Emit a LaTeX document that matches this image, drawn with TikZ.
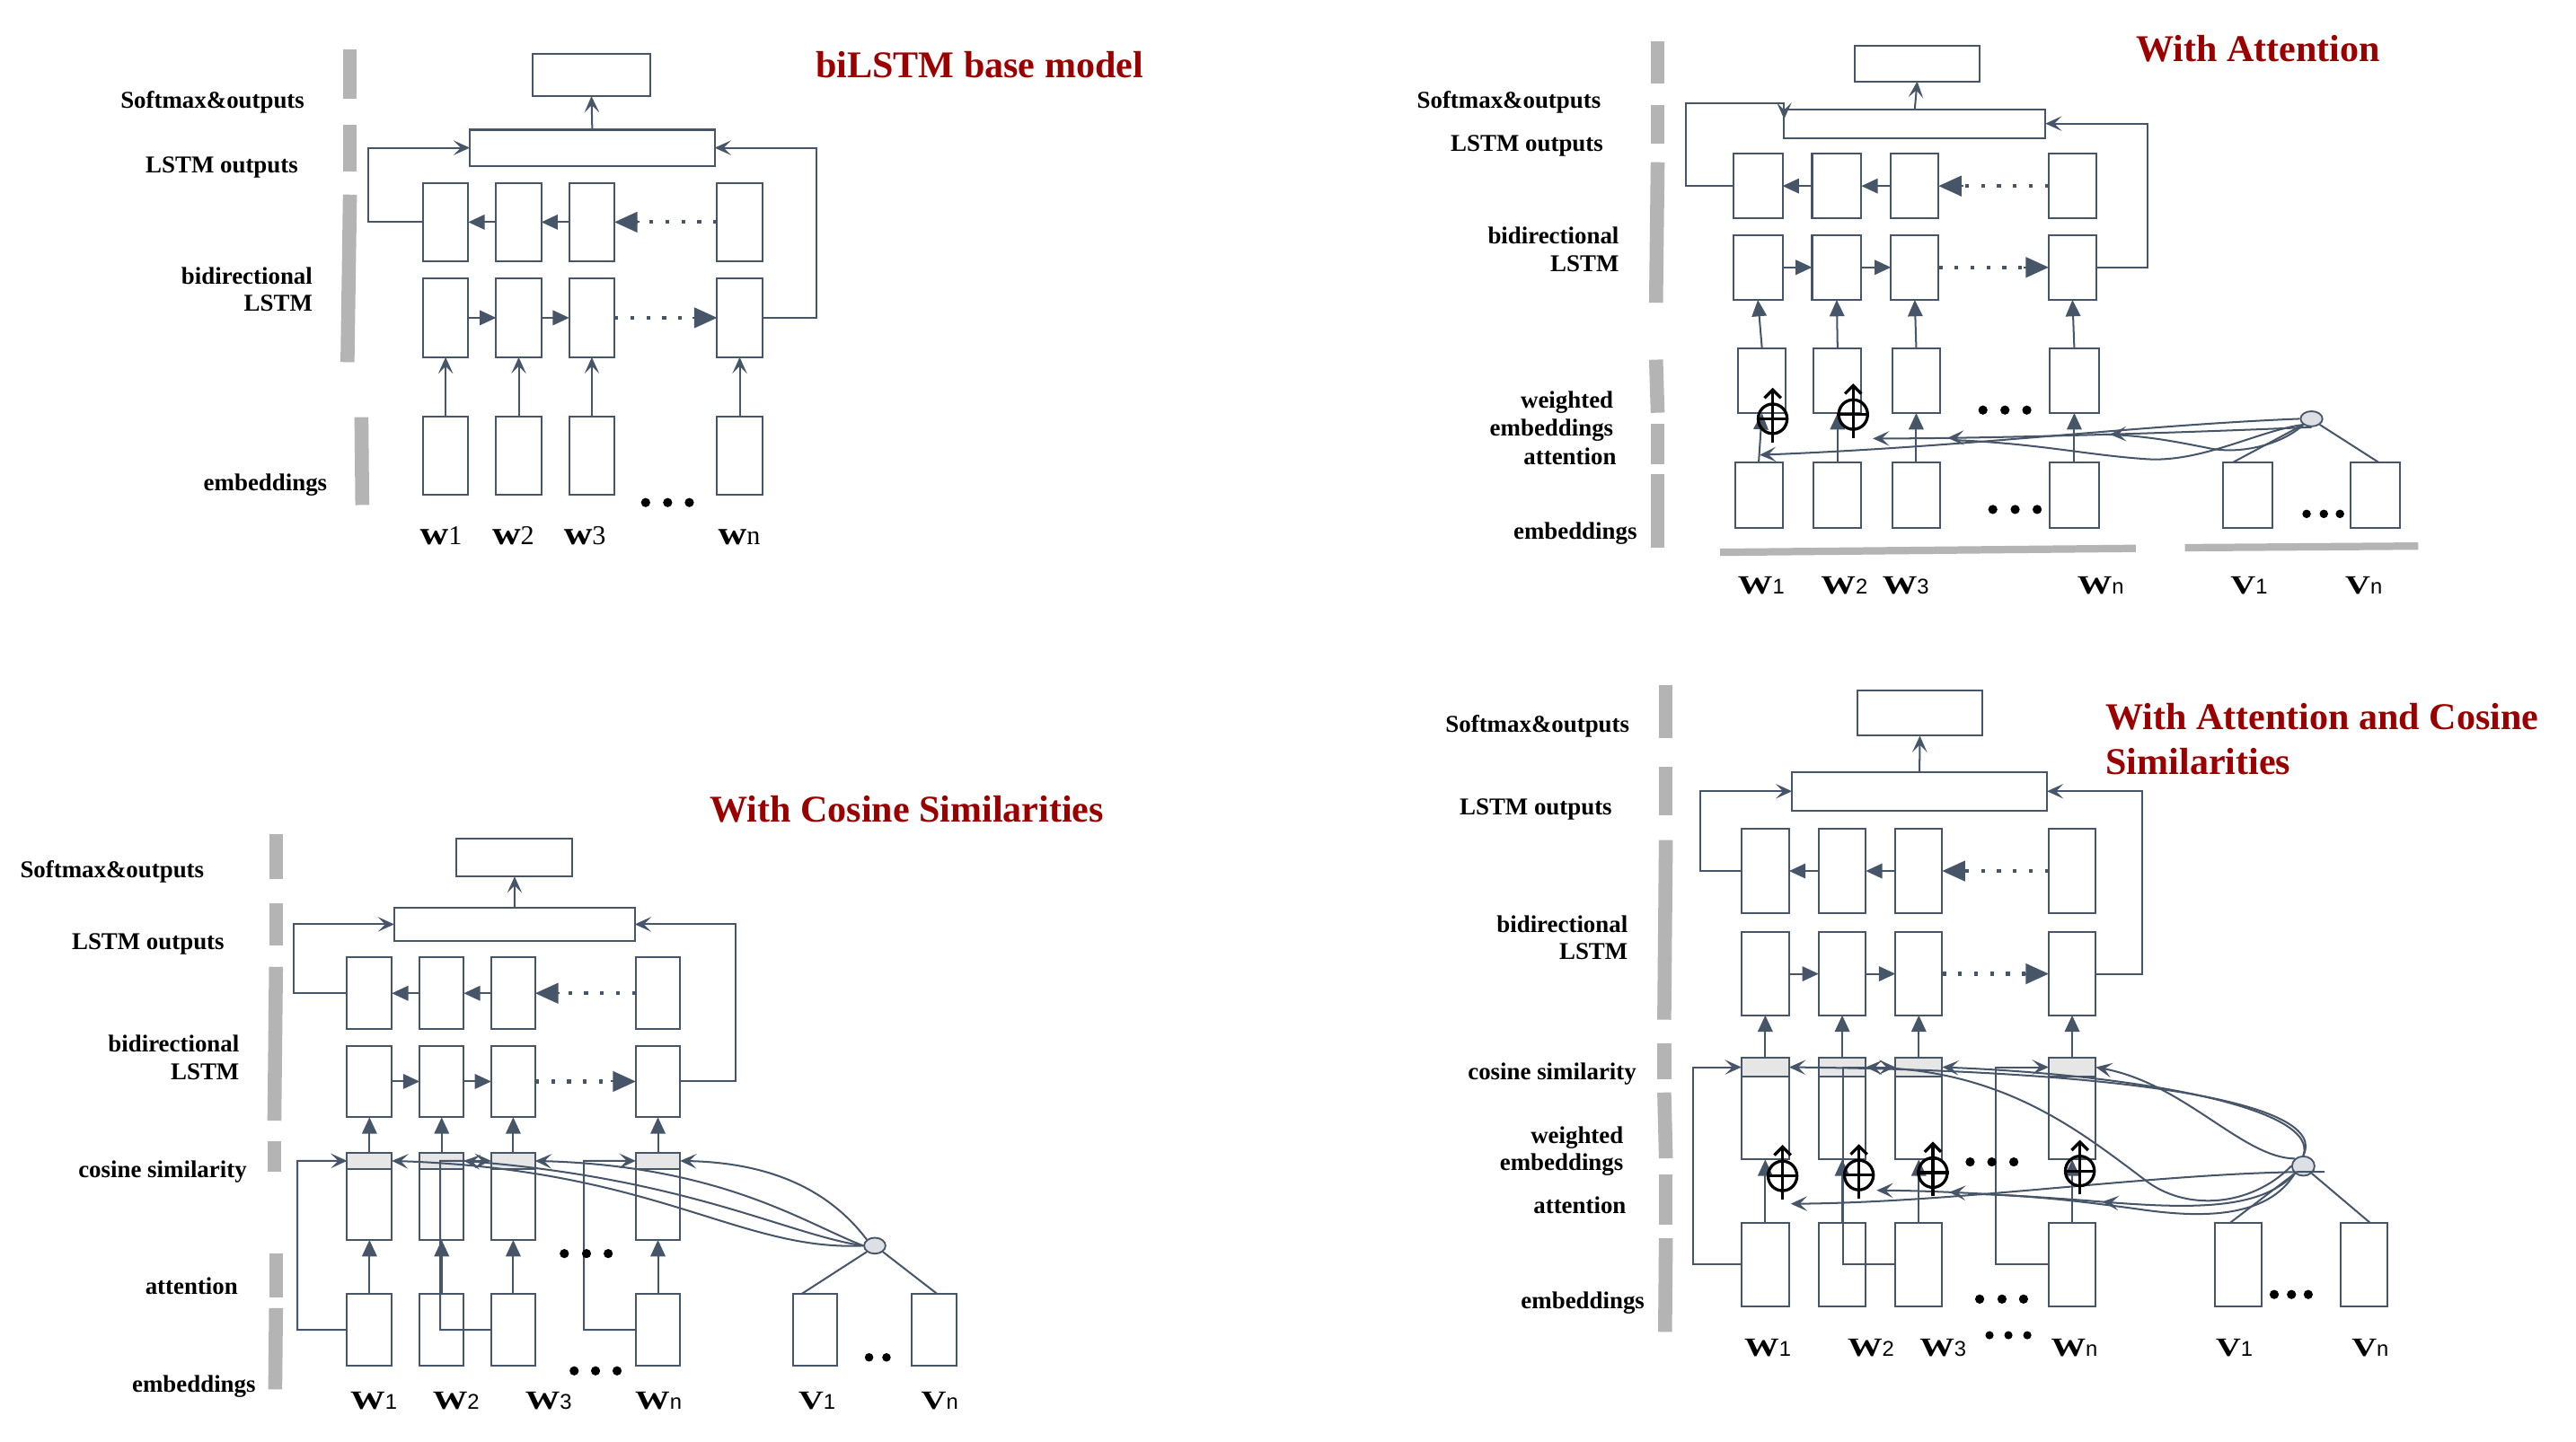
\documentclass[tikz,border=0pt]{standalone}
\usepackage{fontspec}
\setmainfont{Liberation Serif}
\newfontfamily\sansf{Liberation Sans}
\usepackage{graphicx}
\usetikzlibrary{arrows.meta,shapes.geometric,decorations.markings}
\definecolor{lc}{HTML}{475569}
\definecolor{barc}{HTML}{B4B4B4}
\definecolor{gfill}{HTML}{E6E6E6}
\definecolor{tred}{HTML}{9B0000}
\definecolor{attfill}{HTML}{DCDFE4}
\newcommand{\labfont}{\bfseries\fontsize{14.7}{17}\selectfont}
\newcommand{\ttlfont}{\bfseries\fontsize{23}{27}\selectfont}
\newcommand{\Wl}[2]{{\fontsize{16}{19}\selectfont\bfseries\scalebox{1.32}[1]{#1}}{\sansf\fontsize{13}{15}\selectfont #2}}
\newcommand{\wl}[2]{{\fontsize{20}{23}\selectfont\bfseries\scalebox{1.2}[1]{#1}}{\fontsize{16.5}{19}\selectfont #2}}
\newcommand{\bx}[5]{\pgfmathsetmacro\bxw{#4-#2}\pgfmathsetmacro\bxh{#5-#3}\pgfmathsetmacro\bxx{(#2+#4)/2}\pgfmathsetmacro\bxy{(#3+#5)/2}\node[box,minimum width=\bxw pt,minimum height=\bxh pt] (#1) at (\bxx,\bxy) {};}
\newcommand{\gx}[5]{\pgfmathsetmacro\bxw{#4-#2}\pgfmathsetmacro\bxh{#5-#3}\pgfmathsetmacro\bxx{(#2+#4)/2}\pgfmathsetmacro\bxy{(#3+#5)/2}\node[gbox,minimum width=\bxw pt,minimum height=\bxh pt] (#1) at (\bxx,\bxy) {};}
\newcommand{\opl}[3]{\node[oplus] (#1) at (#2,#3) {};
 \draw[opll] (#1.west) -- (#1.east);
 \draw[opll,-{Straight Barb[length=5pt,width=10pt]}] ([yshift=-4.5pt]#1.south) -- ([yshift=9pt]#1.north);}
\newcommand{\rowarrows}[1]{%
 \draw[tri] (#1b2.west) -- (#1b1.east);
 \draw[tri] (#1b3.west) -- (#1b2.east);
 \draw[dotl] (#1b4.west) -- ([xshift=13pt]#1b3.east);
 \draw[bigtri] ([xshift=15pt]#1b3.east) -- (#1b3.east);
 \draw[tri] (#1f1.east) -- (#1f2.west);
 \draw[tri] (#1f2.east) -- (#1f3.west);
 \draw[dotl] (#1f3.east) -- ([xshift=-13pt]#1f4.west);
 \draw[bigtri] ([xshift=-15pt]#1f4.west) -- (#1f4.west);}
\newcommand{\dotrow}[3]{\foreach \xx in {#1}{\fill[black] (\xx,#2) circle (#3pt);}}
\tikzset{
 box/.style={draw=lc,line width=1.1pt,fill=white,inner sep=0pt,outer sep=0pt},
 gbox/.style={box,fill=gfill},
 con/.style={draw=lc,line width=1.1pt},
 ast/.tip={Stealth[length=10pt,width=9pt,inset=4.5pt]},
 smtri/.tip={Triangle[length=10pt,width=9pt]},
 bgtri/.tip={Triangle[length=14pt,width=12.5pt]},
 stl/.style={con,-{ast}},
 tri/.style={con,-{smtri}},
 bigtri/.style={con,-{bgtri}},
 dotl/.style={draw=lc,line width=2.3pt,dash pattern=on 2.3pt off 7.4pt},
 gbar/.style={draw=barc,line width=8.5pt},
 hbar/.style={draw=barc,line width=4.5pt},
 lab/.style={font=\labfont,anchor=east,inner sep=0pt},
 wlab/.style={inner sep=0pt},
 wlab1/.style={inner sep=0pt,anchor=base},
 ttl/.style={font=\ttlfont,text=tred,inner sep=0pt},
 att/.style={ellipse,draw=lc,fill=attfill,line width=1pt,inner sep=0pt},
 oplus/.style={ellipse,draw=black,line width=1.8pt,minimum width=17.6pt,minimum height=18pt,inner sep=0pt},
 opll/.style={draw=black,line width=1.8pt},
 twomarks/.style 2 args={postaction={decorate,decoration={markings,mark=at position #1 with {\arrow{ast}},mark=at position #2 with {\arrow{ast}}}}}
}
\begin{document}
\begin{tikzpicture}[x=1pt,y=-1pt]
\useasboundingbox (0,0) rectangle (1568,878);
\fill[white] (0,0) rectangle (1568,878);

%================ Panel 1 =================
\foreach \n/\a/\b in {1/257.5/285,2/302/329.5,3/346.5/374,4/436.5/464}{
 \bx{p1b\n}{\a}{111.5}{\b}{159}
 \bx{p1f\n}{\a}{169.5}{\b}{217.5}
 \bx{p1e\n}{\a}{253.5}{\b}{301}}
\bx{p1so}{324}{33}{396}{58.5}
\bx{p1lo}{286}{79}{435}{101}
\draw[stl] (p1lo.north) -- (p1so.south);
\rowarrows{p1}
\coordinate (p1fl) at (224,90);
\coordinate (p1fr) at (497,90);
\draw[stl] (p1b1.west) -| (p1fl) -- (p1lo.west);
\draw[stl] (p1f4.east) -| (p1fr) -- (p1lo.east);
\foreach \i in {1,...,4}{\draw[stl] (p1e\i.north) -- (p1f\i.south);}
\dotrow{393,406.4,419.6}{306}{2.8}
\node[wlab1] (p1w1) at (268.5,331.7) {\wl{w}{1}};
\node[wlab1] (p1w2) at (312.4,331.7) {\wl{w}{2}};
\node[wlab1] (p1w3) at (356,331.7) {\wl{w}{3}};
\node[wlab1] (p1w4) at (450,331.7) {\wl{w}{n}};
\draw[gbar] (213,30) -- (213,60);
\draw[gbar] (213,76) -- (213,104.5);
\draw[gbar] (213,118.5) -- (211.5,220.5);
\draw[gbar] (220,254) -- (220.5,307.5);
\node[lab] (p1t1) at (185.5,62.5) {Softmax\&outputs};
\node[lab] (p1t2) at (181.6,101.7) {LSTM outputs};
\node[lab] (p1t3) at (190.4,168) {bidirectional};
\node[lab] (p1t4) at (190.4,184.4) {LSTM};
\node[lab] (p1t5) at (199.3,295.4) {embeddings};
\node[ttl] (p1tt) at (596.3,39.2) {biLSTM base model};

%================ Panel 2 =================
\foreach \n/\a/\b in {1/1055/1085,2/1103/1133,3/1151/1180,4/1247/1276}{
 \bx{p2b\n}{\a}{93.5}{\b}{133}
 \bx{p2f\n}{\a}{143}{\b}{182.6}}
\foreach \n/\a/\b in {1/1058/1087,2/1104/1133,3/1151.8/1181,4/1247.7/1277.5}{
 \bx{p2w\n}{\a}{212}{\b}{251.5}}
\foreach \n/\a/\b in {1/1056/1085,2/1104/1133,3/1151.8/1181,4/1247.7/1277.5}{
 \bx{p2e\n}{\a}{281.6}{\b}{321.5}}
\bx{p2v1}{1353}{281.6}{1383}{321.5}
\bx{p2v2}{1431}{281.6}{1461}{321.5}
\bx{p2so}{1129}{28}{1205}{49.5}
\bx{p2lo}{1086}{66.5}{1245}{84}
\draw[stl] (p2lo.north) -- (p2so.south);
\rowarrows{p2}
\coordinate (p2fl) at (1026.3,63);
\coordinate (p2fr) at (1307,75.25);
\draw[stl] (p2b1.west) -| (p2fl) -| ([yshift=-6pt]p2lo.north west);
\draw[stl] (p2f4.east) -| (p2fr) -- (p2lo.east);
\foreach \i in {1,...,4}{\draw[tri] (p2w\i.north) -- (p2f\i.south); \draw[tri] (p2e\i.north) -- (p2w\i.south);}
\node[att,minimum width=13.3pt,minimum height=9.2pt] (p2a) at (1407,255) {};
\draw[stl,twomarks={0.46}{0.83}] (p2a.south) .. controls (1340,263) and (1220,267) .. (1140,267);
\draw[stl] (p2a.west) .. controls (1300,259) and (1200,272) .. (1071,277);
\draw[con] (p2a.south west) .. controls (1375,262) and (1340,282) .. (1306,279.5) .. controls (1270,277) and (1240,270) .. (1190,268);
\draw[con] (p2a.south west) .. controls (1390,270) and (1365,277) .. (1345,273) .. controls (1325,269) and (1305,265) .. (1280,264.5);
\draw[con] (p2a.south west) -- ([xshift=-9pt]p2v1.north);
\draw[con] (p2a.south east) -- ([xshift=2pt]p2v2.north);
\opl{p2o1}{1079}{255}
\opl{p2o2}{1128}{252.4}
\dotrow{1207,1220.4,1233.7}{249.7}{2.8}
\dotrow{1213,1226.6,1240}{310.2}{2.8}
\dotrow{1404,1414.5,1424.3}{312.9}{2.6}
\draw[gbar] (1009,25.3) -- (1009,50.7);
\draw[gbar] (1009,64.2) -- (1009,87.5);
\draw[gbar] (1009,98.8) -- (1008,184.3);
\draw[gbar] (1008,219) -- (1009,251.3);
\draw[gbar] (1009,258) -- (1009,282.7);
\draw[gbar] (1009,288.8) -- (1009,333.5);
\draw[hbar] (1047,336.3) -- (1300,333.9);
\draw[hbar] (1330,333.5) -- (1472,332.5);
\node[lab] (p2t1) at (974.6,62.5) {Softmax\&outputs};
\node[lab] (p2t2) at (976,88.7) {LSTM outputs};
\node[lab] (p2t3) at (985.6,143.4) {bidirectional};
\node[lab] (p2t4) at (985.6,160.6) {LSTM};
\node[lab] (p2t5) at (982.2,245) {weighted};
\node[lab] (p2t6) at (982.2,262) {embeddings};
\node[lab] (p2t7) at (984,277.8) {attention};
\node[lab] (p2t8) at (996.6,324.8) {embeddings};
\node[wlab] (p2l1) at (1072,356.7) {\Wl{W}{1}};
\node[wlab] (p2l2) at (1122.6,356.7) {\Wl{W}{2}};
\node[wlab] (p2l3) at (1160,356.7) {\Wl{W}{3}};
\node[wlab] (p2l4) at (1278.6,356.7) {\Wl{W}{n}};
\node[wlab] (p2l5) at (1369,356.7) {\Wl{V}{1}};
\node[wlab] (p2l6) at (1438.8,356.7) {\Wl{V}{n}};
\node[ttl] (p2tt) at (1374.6,29.4) {With Attention};

%================ Panel 3 =================
\foreach \n/\a/\b in {1/211.3/238.5,2/255.4/282.3,3/299/325.8,4/387/414}{
 \bx{p3b\n}{\a}{583}{\b}{626.6}
 \bx{p3f\n}{\a}{636.7}{\b}{680.3}
 \bx{p3c\n}{\a}{702}{\b}{755}
 \gx{p3g\n}{\a}{702}{\b}{711.7}
 \bx{p3e\n}{\a}{788}{\b}{831.6}}
\bx{p3v1}{482.6}{788}{509.6}{831.6}
\bx{p3v2}{555}{788}{582.3}{831.6}
\bx{p3so}{278}{510.4}{348.5}{533.7}
\bx{p3lo}{240}{552.8}{386.4}{572.8}
\draw[stl] (p3lo.north) -- (p3so.south);
\rowarrows{p3}
\coordinate (p3fl) at (178.6,562.8);
\coordinate (p3fr) at (448,562.8);
\draw[stl] (p3b1.west) -| (p3fl) -- (p3lo.west);
\draw[stl] (p3f4.east) -| (p3fr) -- (p3lo.east);
\foreach \i in {1,...,4}{\draw[tri] (p3g\i.north) -- (p3f\i.south); \draw[tri] (p3e\i.north) -- (p3c\i.south);}
\coordinate (p3s1) at (181,706.85);
\coordinate (p3s3) at (268,706.85);
\coordinate (p3s4) at (355.4,706.85);
\draw[stl] (p3e1.west) -| (p3s1) -- (p3g1.west);
\draw[stl] (p3e3.west) -| (p3s3) -- (p3g3.west);
\draw[stl] (p3e4.west) -| (p3s4) -- (p3g4.west);
\node[att,minimum width=13pt,minimum height=9.7pt] (p3a) at (532.5,758.5) {};
\draw[stl] (p3a.north west) .. controls (505,725) and (470,708) .. (p3g4.east);
\draw[stl] (p3a.west) .. controls (490,745) and (440,710) .. (p3g3.east);
\draw[stl] (p3a.west) .. controls (480,752) and (420,718) .. (p3g2.east);
\draw[stl] (p3a.west) .. controls (450,762) and (400,712) .. (p3g1.east);
\draw[con] (p3a.south west) -- ([xshift=-8.4pt]p3v1.north);
\draw[con] (p3a.south east) -- ([xshift=2pt]p3v2.north);
\dotrow{343.5,357,370.2}{763.3}{2.8}
\dotrow{349.5,362.5,375.6}{834.7}{2.8}
\dotrow{529,539.6}{826.5}{2.6}
\draw[gbar] (168,507.7) -- (168,535);
\draw[gbar] (168,550) -- (168,575.7);
\draw[gbar] (168,588.7) -- (167,682.4);
\draw[gbar] (167,695) -- (167,713.6);
\draw[gbar] (168,763.4) -- (168,790);
\draw[gbar] (168,796.5) -- (167.5,846);
\node[lab] (p3t1) at (124.4,531) {Softmax\&outputs};
\node[lab] (p3t2) at (136.7,575) {LSTM outputs};
\node[lab] (p3t3) at (145.8,635.5) {bidirectional};
\node[lab] (p3t4) at (145.8,652.6) {LSTM};
\node[lab] (p3t5) at (150.4,713.7) {cosine similarity};
\node[lab] (p3t6) at (145,783) {attention};
\node[lab] (p3t7) at (155.8,844) {embeddings};
\node[wlab] (p3l1) at (227.5,853) {\Wl{W}{1}};
\node[wlab] (p3l2) at (277.6,853) {\Wl{W}{2}};
\node[wlab] (p3l3) at (333.9,853) {\Wl{W}{3}};
\node[wlab] (p3l4) at (400.8,853) {\Wl{W}{n}};
\node[wlab] (p3l5) at (497.3,853) {\Wl{V}{1}};
\node[wlab] (p3l6) at (572,853) {\Wl{V}{n}};
\node[ttl] (p3tt) at (552,492.6) {With Cosine Similarities};

%================ Panel 4 =================
\foreach \n/\a/\b in {1/1060/1089,2/1107/1135.7,3/1153.7/1182.2,4/1247/1275.6}{
 \bx{p4b\n}{\a}{504.8}{\b}{555.9}
 \bx{p4f\n}{\a}{567.7}{\b}{618.2}
 \bx{p4c\n}{\a}{644}{\b}{706}
 \gx{p4g\n}{\a}{644}{\b}{655.6}
 \bx{p4e\n}{\a}{744.5}{\b}{795.2}}
\bx{p4v1}{1348.3}{744.5}{1376.7}{795.2}
\bx{p4v2}{1425}{744.5}{1453}{795.2}
\bx{p4so}{1130.5}{420.4}{1206.7}{448}
\bx{p4lo}{1090.8}{470}{1246}{493.6}
\draw[stl] (p4lo.north) -- (p4so.south);
\rowarrows{p4}
\coordinate (p4fl) at (1035,481.8);
\coordinate (p4fr) at (1304,481.8);
\draw[stl] (p4b1.west) -| (p4fl) -- (p4lo.west);
\draw[stl] (p4f4.east) -| (p4fr) -- (p4lo.east);
\foreach \i in {1,...,4}{\draw[tri] (p4g\i.north) -- (p4f\i.south); \draw[tri] (p4e\i.north) -- (p4c\i.south);}
\coordinate (p4s1) at (1030.5,649.8);
\coordinate (p4s3) at (1121.8,649.8);
\coordinate (p4s4) at (1215,649.8);
\draw[stl] (p4e1.west) -| (p4s1) -- (p4g1.west);
\draw[stl] (p4e3.west) -| (p4s3) -- (p4g3.west);
\draw[stl] (p4e4.west) -| (p4s4) -- (p4g4.west);
\node[att,minimum width=13.7pt,minimum height=11.8pt] (p4a) at (1402,710) {};
\coordinate (p4ar) at (1415,713.5);
\draw[stl] (p4a.north west) .. controls (1365,705) and (1330,660) .. (p4g4.east);
\draw[stl] (p4a.north) .. controls (1412,676) and (1310,655) .. (p4g3.east);
\draw[stl] (p4a.north) .. controls (1418,672) and (1300,652) .. (p4g1.east);
\draw[stl] (p4a.west) .. controls (1370,735) and (1330,738) .. (1305,718) .. controls (1265,688) and (1220,652) .. (p4g2.east);
\draw[stl] (p4ar) .. controls (1320,713) and (1200,732) .. (1090,733);
\draw[stl,twomarks={0.47}{0.83}] (p4a.south west) .. controls (1375,738) and (1330,736) .. (1270,731) .. controls (1230,728) and (1180,725) .. (1142.3,724.8);
\draw[con] (p4a.south west) .. controls (1380,742) and (1340,742) .. (1300,736) .. controls (1270,732) and (1240,728) .. (1200,727);
\draw[con] (p4a.south west) -- ([xshift=-5pt]p4v1.north);
\draw[con] (p4a.south east) -- ([xshift=3.6pt]p4v2.north);
\opl{p4o1}{1085}{716}
\opl{p4o2}{1131.5}{715.5}
\opl{p4o3}{1176.5}{714}
\opl{p4o4}{1266}{713}
\dotrow{1199.2,1212.4,1225.8}{707.5}{2.8}
\dotrow{1205,1218.6,1231.7}{791}{2.8}
\dotrow{1384.3,1394.8,1405}{788.2}{2.8}
\dotrow{1211,1222.5,1234}{813}{2.5}
\draw[gbar] (1014,417.3) -- (1014,449.3);
\draw[gbar] (1014,466.9) -- (1014,496.6);
\draw[gbar] (1014,511.5) -- (1013,620.9);
\draw[gbar] (1013,635.3) -- (1013,657.2);
\draw[gbar] (1013,665.2) -- (1014,705.3);
\draw[gbar] (1014,715) -- (1014,745.8);
\draw[gbar] (1014,754) -- (1013.5,811);
\node[lab] (p4t1) at (992,442.5) {Softmax\&outputs};
\node[lab] (p4t2) at (981.4,492.6) {LSTM outputs};
\node[lab] (p4t3) at (991,562.6) {bidirectional};
\node[lab] (p4t4) at (991,579.2) {LSTM};
\node[lab] (p4t5) at (996.2,653.7) {cosine similarity};
\node[lab] (p4t6) at (988.3,692.6) {weighted};
\node[lab] (p4t7) at (988.3,709) {embeddings};
\node[lab] (p4t8) at (990,734) {attention};
\node[lab] (p4t9) at (1001.2,793.3) {embeddings};
\node[wlab] (p4l1) at (1076,820.7) {\Wl{W}{1}};
\node[wlab] (p4l2) at (1138.8,820.7) {\Wl{W}{2}};
\node[wlab] (p4l3) at (1182.7,820.7) {\Wl{W}{3}};
\node[wlab] (p4l4) at (1262.6,820.7) {\Wl{W}{n}};
\node[wlab] (p4l5) at (1360,820.7) {\Wl{V}{1}};
\node[wlab] (p4l6) at (1442.7,820.7) {\Wl{V}{n}};
\node[ttl,anchor=west] (p4tt1) at (1281.6,436.5) {With Attention and Cosine};
\node[ttl,anchor=west] (p4tt2) at (1281.6,463.8) {Similarities};
\end{tikzpicture}
\end{document}
